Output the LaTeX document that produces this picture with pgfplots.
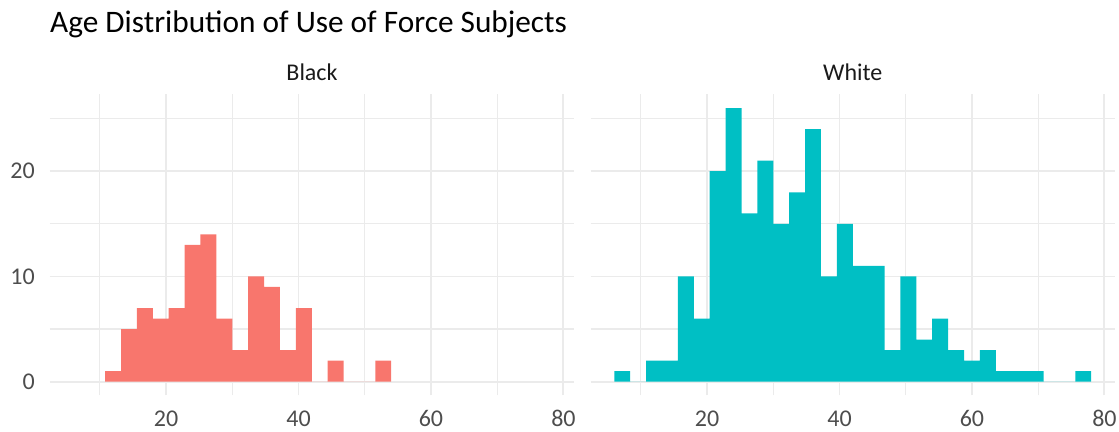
\documentclass[border=0pt]{standalone}
\usepackage{pgfplots}
\pgfplotsset{compat=1.18}
\usepackage{fontspec}
\setmainfont{Carlito}
\definecolor{redbar}{HTML}{F8766D}
\definecolor{cyanbar}{HTML}{00BFC4}
\definecolor{gridc}{HTML}{EBEBEB}
\definecolor{ticktext}{HTML}{4D4D4D}
\definecolor{striptext}{HTML}{1A1A1A}
\pgfplotsset{
  facet/.style={
    scale only axis,
    width=524.5bp, height=301bp,
    anchor=south west,
    xmin=2.4, xmax=81.6, ymin=-1.3, ymax=27.3,
    enlargelimits=false,
    axis line style={draw=none},
    major tick length=0pt, minor tick length=0pt,
    tick style={draw=none},
    xtick={20,40,60,80},
    minor xtick={10,30,50,70},
    ytick={0,10,20},
    minor ytick={5,15,25},
    grid=both,
    major grid style={draw=gridc, line width=1.9bp},
    minor grid style={draw=gridc, line width=1.2bp},
    /pgf/number format/assume math mode=true,
    ticklabel style={font=\fontsize{24bp}{28bp}\selectfont, text=ticktext, inner sep=0pt},
    xticklabel style={anchor=north, yshift=-15bp},
    yticklabel style={anchor=east, xshift=-14.5bp},
    clip=false,
  }
}
\begin{document}
\begin{tikzpicture}[x=1bp,y=1bp]
\useasboundingbox (0,0) rectangle (1119,431);
% title
\node[anchor=base west, inner sep=0pt, font=\fontsize{31.3bp}{37bp}\selectfont, text=black] at (50,398.3) {Age Distribution of Use of Force Subjects};
% strips
\node[anchor=base, inner sep=0pt, font=\fontsize{24bp}{28bp}\selectfont, text=striptext] at (312,351) {Black};
\node[anchor=base, inner sep=0pt, font=\fontsize{24bp}{28bp}\selectfont, text=striptext] at (852.8,351) {White};
\begin{axis}[facet, at={(49.5bp,35.6bp)}]
\addplot[ybar interval, fill=redbar, draw=none] coordinates {
(10.8,1) (13.2,5) (15.6,7) (18.0,6) (20.4,7) (22.8,13) (25.2,14) (27.6,6)
(30.0,3) (32.4,10) (34.8,9) (37.2,3) (39.6,7) (42.0,0) (44.4,2) (46.8,0)
(49.2,0) (51.6,2) (54.0,0)
};
\end{axis}
\begin{axis}[facet, at={(590.5bp,35.6bp)}, yticklabels={}]
\addplot[ybar interval, fill=cyanbar, draw=none] coordinates {
(6.0,1) (8.4,0) (10.8,2) (13.2,2) (15.6,10) (18.0,6) (20.4,20) (22.8,26)
(25.2,16) (27.6,21) (30.0,15) (32.4,18) (34.8,24) (37.2,10) (39.6,15) (42.0,11)
(44.4,11) (46.8,3) (49.2,10) (51.6,4) (54.0,6) (56.4,3) (58.8,2) (61.2,3)
(63.6,1) (66.0,1) (68.4,1) (70.8,0) (73.2,0) (75.6,1) (78.0,0)
};
\end{axis}
\end{tikzpicture}
\end{document}
